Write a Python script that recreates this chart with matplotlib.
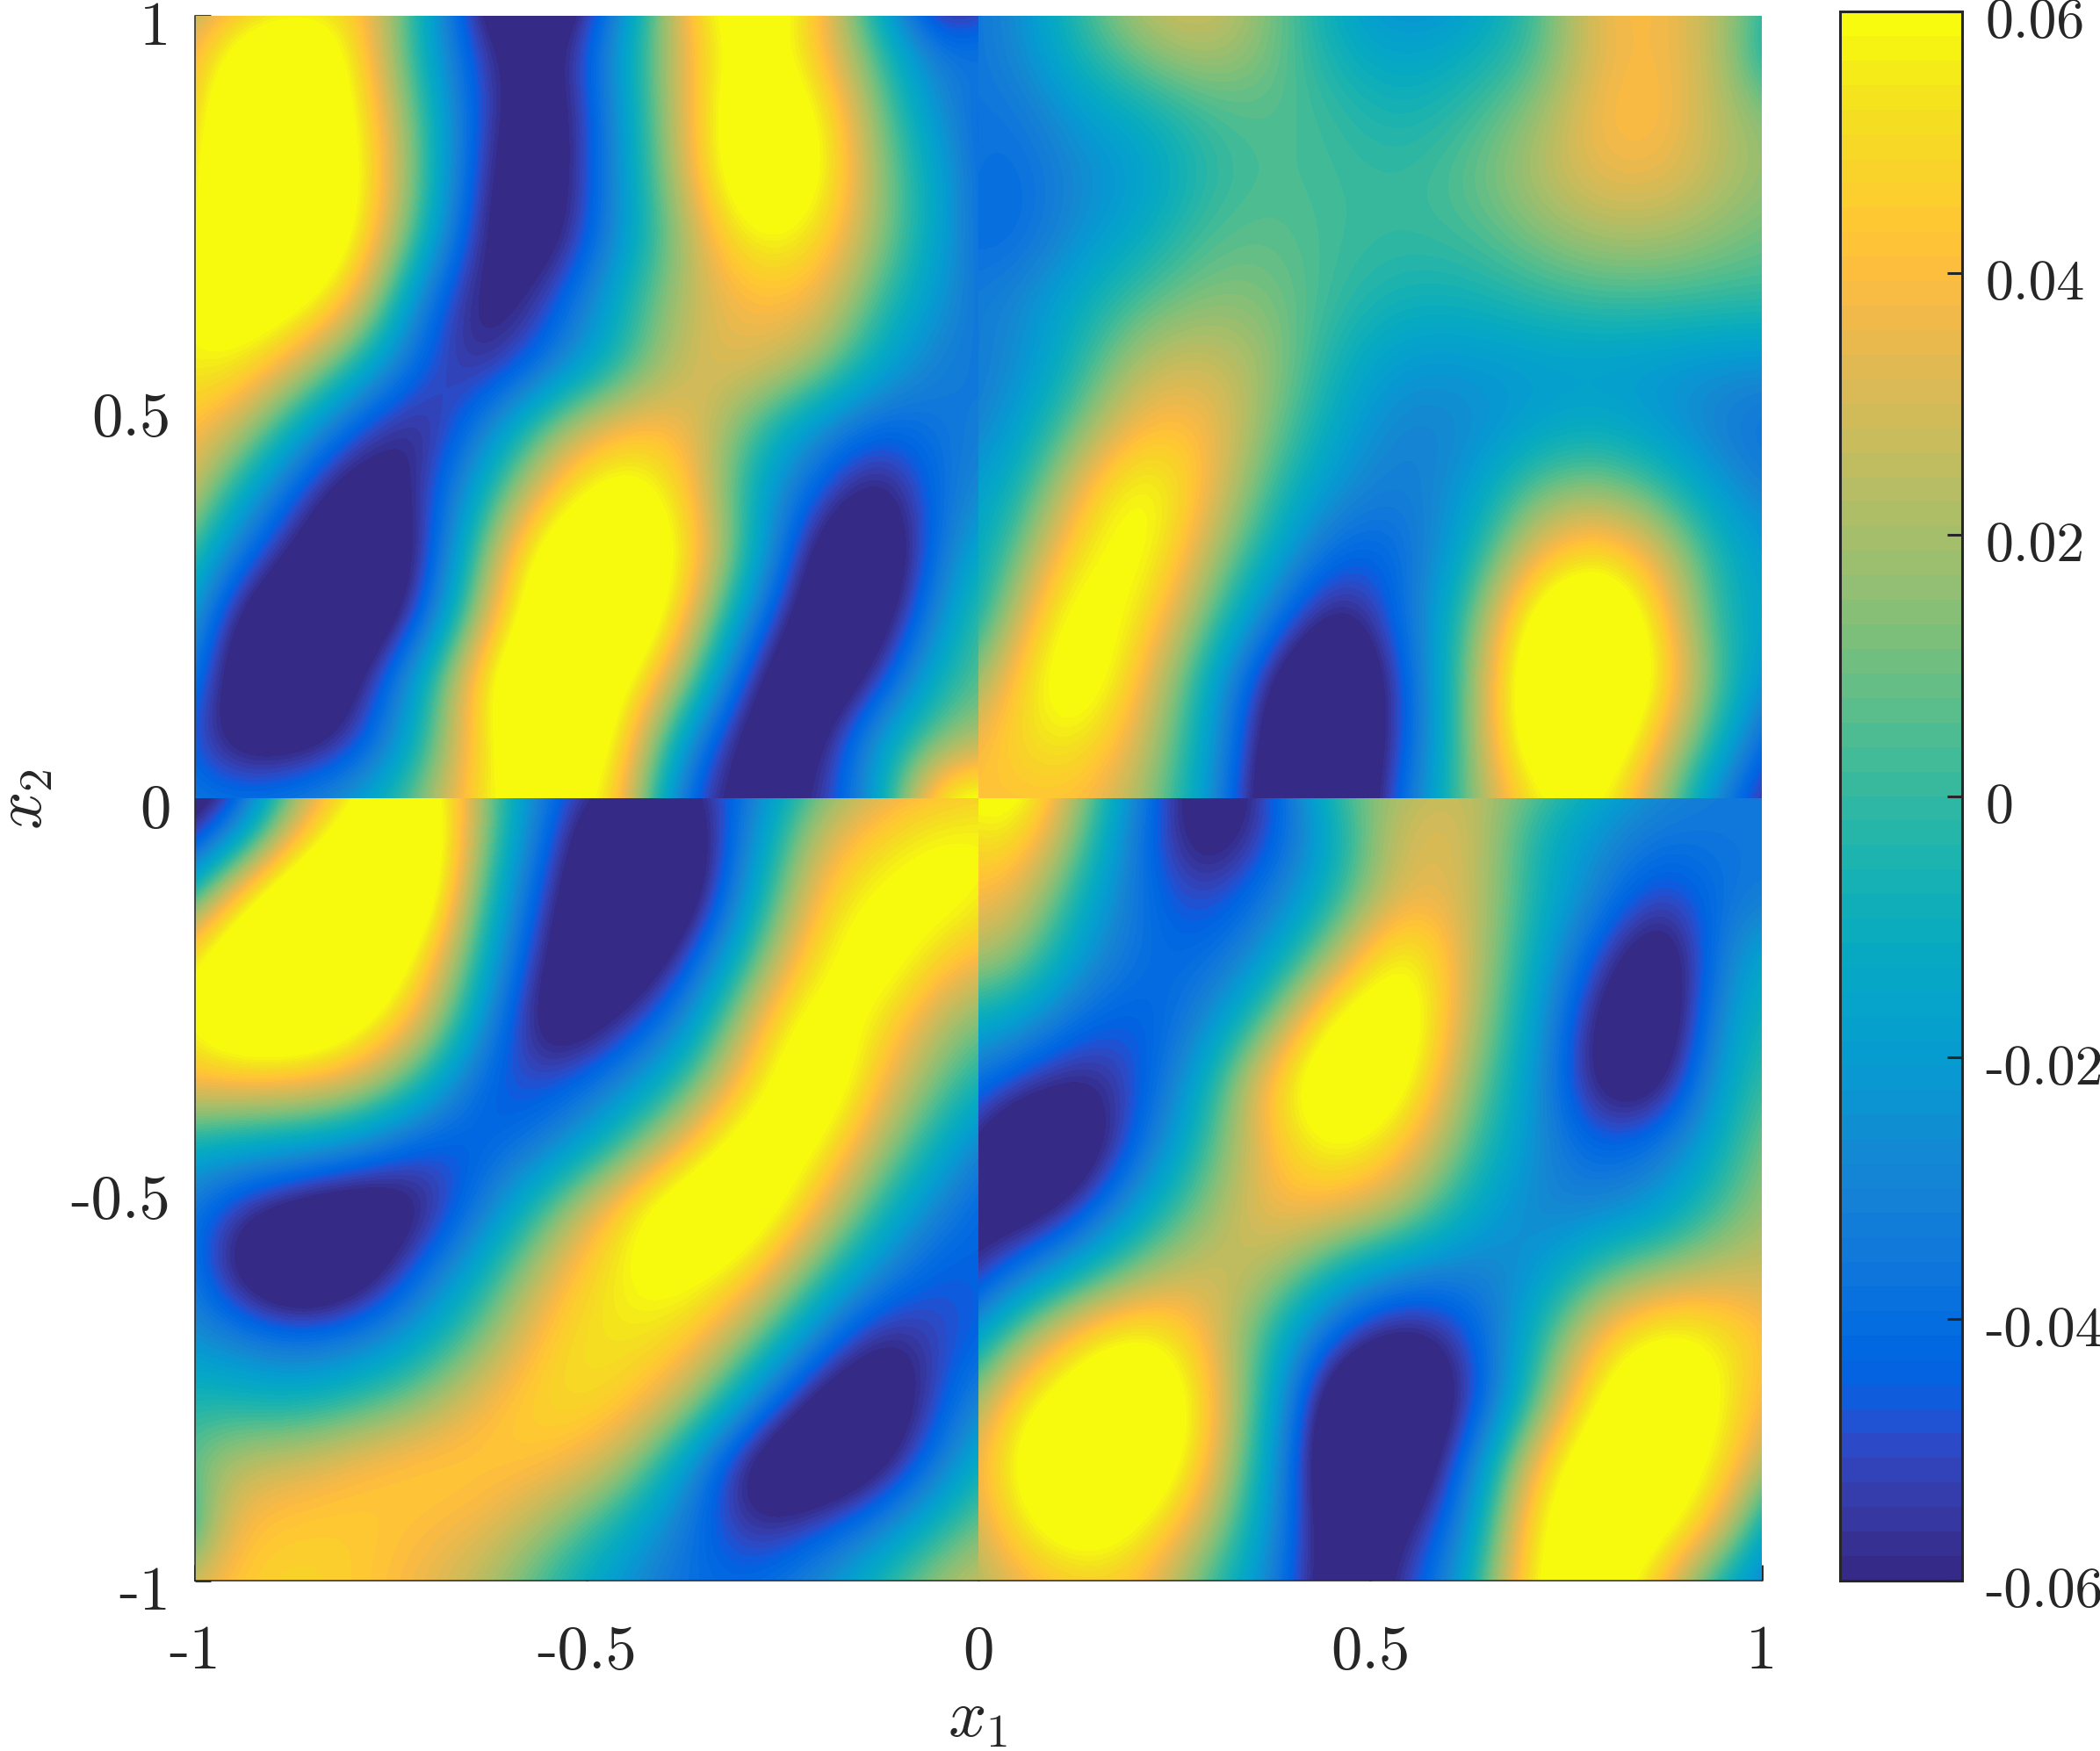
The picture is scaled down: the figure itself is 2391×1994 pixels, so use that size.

from __future__ import annotations

import matplotlib

matplotlib.use("Agg")
import matplotlib.pyplot as plt
import numpy as np
from matplotlib.colors import ListedColormap
from matplotlib.patches import Rectangle
from matplotlib.transforms import ScaledTranslation

W, H, DPI = 2391, 1994, 100
FS = 51
FS_CBAR = 46
FS_LABEL = 55
INK = "#262626"

plt.rcParams.update(
    {
        "font.family": "cmr10",
        "mathtext.fontset": "cm",
        "axes.unicode_minus": False,
        "axes.formatter.use_mathtext": True,
    }
)

# MATLAB parula(64)
PARULA = [
    (0.2081, 0.1663, 0.5292), (0.2116, 0.1898, 0.5777), (0.2123, 0.2138, 0.6270), (0.2081, 0.2386, 0.6771),
    (0.1959, 0.2645, 0.7279), (0.1707, 0.2919, 0.7792), (0.1253, 0.3242, 0.8303), (0.0591, 0.3598, 0.8683),
    (0.0117, 0.3875, 0.8820), (0.0060, 0.4086, 0.8828), (0.0165, 0.4266, 0.8786), (0.0329, 0.4430, 0.8720),
    (0.0498, 0.4586, 0.8641), (0.0629, 0.4737, 0.8554), (0.0723, 0.4887, 0.8467), (0.0779, 0.5040, 0.8384),
    (0.0793, 0.5200, 0.8312), (0.0749, 0.5375, 0.8263), (0.0641, 0.5570, 0.8240), (0.0488, 0.5772, 0.8228),
    (0.0343, 0.5966, 0.8199), (0.0265, 0.6137, 0.8135), (0.0239, 0.6287, 0.8038), (0.0231, 0.6418, 0.7913),
    (0.0228, 0.6535, 0.7768), (0.0267, 0.6642, 0.7607), (0.0384, 0.6743, 0.7436), (0.0590, 0.6838, 0.7254),
    (0.0843, 0.6928, 0.7062), (0.1133, 0.7015, 0.6859), (0.1453, 0.7098, 0.6646), (0.1801, 0.7177, 0.6424),
    (0.2178, 0.7250, 0.6193), (0.2586, 0.7317, 0.5954), (0.3022, 0.7376, 0.5712), (0.3482, 0.7424, 0.5473),
    (0.3953, 0.7459, 0.5244), (0.4420, 0.7481, 0.5033), (0.4871, 0.7491, 0.4840), (0.5300, 0.7491, 0.4661),
    (0.5709, 0.7485, 0.4494), (0.6099, 0.7473, 0.4337), (0.6473, 0.7456, 0.4188), (0.6834, 0.7435, 0.4044),
    (0.7184, 0.7411, 0.3905), (0.7525, 0.7384, 0.3768), (0.7858, 0.7356, 0.3633), (0.8185, 0.7327, 0.3498),
    (0.8507, 0.7299, 0.3360), (0.8824, 0.7274, 0.3217), (0.9139, 0.7258, 0.3063), (0.9450, 0.7261, 0.2886),
    (0.9739, 0.7314, 0.2666), (0.9938, 0.7455, 0.2403), (0.9990, 0.7653, 0.2164), (0.9955, 0.7861, 0.1967),
    (0.9880, 0.8066, 0.1794), (0.9789, 0.8271, 0.1633), (0.9697, 0.8481, 0.1475), (0.9626, 0.8705, 0.1309),
    (0.9589, 0.8949, 0.1132), (0.9598, 0.9218, 0.0948), (0.9661, 0.9514, 0.0755), (0.9763, 0.9831, 0.0538),
]

# rows run top to bottom. outer rows/cols sit just past the quadrant edge and get clipped,
# they only set the slope at the edge; values past +-0.06 only shape the saturated blobs
TOP_LEFT = [
    [0.0, 0.028, 0.034, 0.048, -0.008, -0.08, -0.085, -0.04, 0.045, 0.085, 0.05, -0.02, -0.085, -0.05],
    [0.018, 0.062, 0.09, 0.052, -0.012, -0.06, -0.07, -0.02, 0.035, 0.075, 0.045, 0.0, -0.043, -0.025],
    [0.02, 0.08, 0.095, 0.06, 0.0, -0.058, -0.075, -0.025, 0.035, 0.085, 0.065, 0.01, -0.03, -0.05],
    [0.02, 0.09, 0.1, 0.065, 0.005, -0.065, -0.075, -0.025, 0.03, 0.085, 0.07, 0.015, -0.02, -0.054],
    [0.026, 0.09, 0.095, 0.06, -0.005, -0.07, -0.07, -0.025, 0.02, 0.062, 0.055, 0.015, -0.02, -0.054],
    [0.044, 0.08, 0.07, 0.04, -0.038, -0.07, -0.05, -0.01, 0.025, 0.04, 0.04, 0.0, -0.025, -0.045],
    [0.056, 0.06, 0.035, -0.005, -0.048, -0.062, -0.035, -0.005, 0.03, 0.035, 0.02, -0.015, -0.035, -0.035],
    [0.045, 0.035, -0.01, -0.05, -0.065, -0.03, 0.015, 0.04, 0.04, 0.005, -0.025, -0.045, -0.035, -0.031],
    [0.05, 0.0, -0.045, -0.075, -0.058, -0.005, 0.045, 0.075, 0.05, -0.01, -0.045, -0.07, -0.035, -0.021],
    [0.026, -0.03, -0.065, -0.085, -0.062, 0.02, 0.08, 0.09, 0.06, -0.005, -0.07, -0.085, -0.03, 0.0],
    [0.01, -0.06, -0.085, -0.085, -0.05, 0.035, 0.09, 0.095, 0.045, -0.03, -0.08, -0.075, -0.02, 0.02],
    [-0.01, -0.07, -0.085, -0.065, -0.012, 0.065, 0.095, 0.07, 0.02, -0.06, -0.085, -0.055, 0.0, 0.01],
    [-0.032, -0.068, -0.07, -0.055, -0.005, 0.06, 0.09, 0.06, -0.025, -0.075, -0.07, -0.015, 0.015, 0.025],
    [-0.03, -0.035, -0.03, -0.015, 0.015, 0.06, 0.075, 0.05, -0.05, -0.07, -0.06, -0.02, 0.08, 0.07],
]
TOP_RIGHT = [
    [-0.04, -0.03, -0.001, 0.029, 0.035, 0.012, -0.014, -0.032, -0.024, 0.0, 0.04, 0.04, 0.02, -0.01],
    [-0.04, -0.03, -0.005, 0.015, 0.025, 0.012, -0.01, -0.018, -0.012, 0.0, 0.035, 0.04, 0.02, -0.03],
    [-0.035, -0.038, -0.02, -0.01, 0.003, 0.007, 0.0, -0.008, 0.0, 0.015, 0.04, 0.042, 0.02, 0.01],
    [-0.032, -0.043, -0.028, -0.02, -0.002, 0.005, 0.002, 0.0, 0.007, 0.022, 0.036, 0.036, 0.022, 0.014],
    [-0.038, -0.043, -0.025, -0.012, 0.005, 0.008, 0.002, 0.0, 0.002, 0.012, 0.02, 0.02, 0.013, 0.007],
    [-0.034, -0.03, -0.012, 0.005, 0.015, 0.013, 0.0, -0.008, -0.008, -0.002, 0.002, 0.002, 0.0, 0.0],
    [-0.036, -0.03, -0.005, 0.025, 0.03, 0.018, -0.008, -0.022, -0.022, -0.02, -0.02, -0.022, -0.025, -0.025],
    [-0.038, -0.022, 0.01, 0.042, 0.042, 0.012, -0.015, -0.032, -0.028, -0.018, -0.012, -0.022, -0.035, -0.041],
    [-0.024, -0.012, 0.035, 0.07, 0.04, 0.0, -0.025, -0.035, -0.022, 0.01, 0.018, 0.002, -0.025, -0.035],
    [-0.026, 0.002, 0.055, 0.07, 0.025, -0.012, -0.045, -0.042, -0.012, 0.035, 0.055, 0.03, -0.012, -0.024],
    [-0.03, 0.02, 0.075, 0.055, 0.01, -0.035, -0.07, -0.04, 0.002, 0.07, 0.095, 0.045, -0.012, -0.018],
    [-0.006, 0.042, 0.08, 0.04, -0.01, -0.065, -0.09, -0.05, 0.01, 0.085, 0.1, 0.055, -0.005, -0.035],
    [0.03, 0.05, 0.058, 0.03, -0.015, -0.075, -0.09, -0.05, 0.01, 0.08, 0.085, 0.035, -0.015, -0.065],
    [0.045, 0.04, 0.042, 0.02, -0.02, -0.08, -0.09, -0.04, 0.01, 0.055, 0.065, 0.015, -0.045, -0.07],
]
BOTTOM_LEFT = [
    [-0.08, -0.075, 0.005, 0.055, 0.08, 0.01, -0.04, -0.055, -0.06, -0.04, 0.0, 0.025, 0.03, 0.04],
    [-0.075, -0.045, 0.035, 0.075, 0.09, 0.01, -0.05, -0.085, -0.08, -0.03, 0.025, 0.045, 0.06, 0.06],
    [-0.04, 0.04, 0.085, 0.1, 0.085, -0.005, -0.06, -0.09, -0.08, -0.02, 0.04, 0.065, 0.07, 0.05],
    [0.04, 0.08, 0.1, 0.095, 0.055, -0.015, -0.07, -0.085, -0.055, 0.0, 0.055, 0.075, 0.045, 0.035],
    [0.045, 0.085, 0.09, 0.07, 0.035, -0.03, -0.078, -0.06, -0.03, 0.03, 0.075, 0.055, 0.02, 0.004],
    [0.04, 0.04, 0.04, 0.03, -0.005, -0.05, -0.05, -0.03, 0.0, 0.05, 0.085, 0.04, 0.005, -0.015],
    [-0.009, -0.015, -0.02, -0.03, -0.05, -0.045, -0.03, 0.0, 0.04, 0.08, 0.065, 0.02, -0.015, -0.045],
    [-0.025, -0.055, -0.07, -0.08, -0.065, -0.03, 0.01, 0.05, 0.085, 0.08, 0.04, -0.005, -0.035, -0.049],
    [-0.018, -0.062, -0.09, -0.075, -0.04, -0.005, 0.035, 0.06, 0.068, 0.05, 0.005, -0.03, -0.05, -0.04],
    [-0.02, -0.03, -0.04, -0.035, -0.015, 0.015, 0.05, 0.055, 0.05, 0.015, -0.03, -0.065, -0.05, -0.04],
    [-0.005, -0.005, -0.01, 0.0, 0.015, 0.04, 0.052, 0.05, 0.025, -0.025, -0.07, -0.08, -0.045, -0.015],
    [-0.001, 0.025, 0.03, 0.04, 0.047, 0.045, 0.042, 0.025, -0.02, -0.072, -0.085, -0.07, -0.03, 0.006],
    [-0.04, 0.04, 0.046, 0.046, 0.04, 0.035, 0.015, -0.01, -0.035, -0.06, -0.05, -0.03, 0.0, 0.02],
    [0.03, 0.045, 0.05, 0.045, 0.035, 0.02, -0.005, -0.025, -0.04, -0.04, -0.025, 0.0, 0.025, 0.035],
]
BOTTOM_RIGHT = [
    [0.06, 0.085, 0.025, -0.03, -0.08, -0.05, 0.01, 0.017, 0.027, 0.015, -0.005, -0.025, -0.035, -0.035],
    [0.046, 0.063, 0.015, -0.04, -0.075, -0.05, -0.01, 0.033, 0.033, -0.005, -0.025, -0.035, -0.035, -0.035],
    [0.04, 0.04, -0.005, -0.04, -0.055, -0.035, -0.005, 0.035, 0.032, -0.005, -0.03, -0.055, -0.035, -0.035],
    [0.024, 0.02, -0.02, -0.04, -0.042, -0.02, 0.022, 0.07, 0.03, -0.01, -0.05, -0.08, -0.025, -0.005],
    [-0.009, -0.015, -0.04, -0.048, -0.03, 0.01, 0.07, 0.08, 0.025, -0.015, -0.068, -0.082, -0.015, -0.001],
    [-0.03, -0.05, -0.065, -0.05, -0.01, 0.05, 0.085, 0.07, 0.015, -0.02, -0.07, -0.07, -0.008, 0.008],
    [-0.045, -0.085, -0.08, -0.04, 0.002, 0.042, 0.065, 0.045, 0.005, -0.025, -0.045, -0.035, -0.005, 0.025],
    [-0.065, -0.075, -0.055, -0.015, 0.015, 0.04, 0.036, 0.02, -0.012, -0.03, -0.03, -0.02, 0.008, 0.024],
    [-0.07, -0.04, -0.01, 0.018, 0.032, 0.022, -0.012, -0.03, -0.033, -0.025, 0.005, 0.02, 0.028, 0.028],
    [-0.04, 0.01, 0.05, 0.066, 0.04, -0.005, -0.05, -0.07, -0.052, -0.008, 0.042, 0.068, 0.055, 0.034],
    [-0.005, 0.05, 0.075, 0.09, 0.05, -0.012, -0.085, -0.085, -0.06, 0.002, 0.065, 0.09, 0.055, 0.025],
    [0.02, 0.06, 0.095, 0.085, 0.045, -0.02, -0.09, -0.085, -0.04, 0.04, 0.085, 0.08, 0.05, 0.004],
    [0.01, 0.05, 0.075, 0.06, 0.025, -0.025, -0.08, -0.065, -0.03, 0.06, 0.085, 0.07, 0.03, -0.05],
    [0.012, 0.03, 0.042, 0.04, 0.0, -0.03, -0.08, -0.055, -0.015, 0.065, 0.08, 0.035, -0.025, -0.04],
]

# y range covered by the rows of the upper and lower quadrants, border rows included
UPPER_ROWS = (-0.0507, 1.0797)
LOWER_ROWS = (-1.0545, 0.081)
COL_PAD = 1 / 12

AXIS_TICKS = [-1, -0.5, 0, 0.5, 1]
AXIS_LABELS = ["-1", "-0.5", "0", "0.5", "1"]
CBAR_TICKS = [-0.06, -0.04, -0.02, 0, 0.02, 0.04, 0.06]
CBAR_LABELS = ["-0.06", "-0.04", "-0.02", "0", "0.02", "0.04", "0.06"]


def px_rect(left, top, right, bottom):
    return [left / W, 1 - bottom / H, (right - left) / W, (bottom - top) / H]


def main():
    cmap = ListedColormap(PARULA)
    fig = plt.figure(figsize=(W / DPI, H / DPI), dpi=DPI)
    ax = fig.add_axes(px_rect(222, 18, 2006, 1800))
    quads = [
        (TOP_LEFT, -1, 0, UPPER_ROWS, 0, 1),
        (TOP_RIGHT, 0, 1, UPPER_ROWS, 0, 1),
        (BOTTOM_LEFT, -1, 0, LOWER_ROWS, -1, 0),
        (BOTTOM_RIGHT, 0, 1, LOWER_ROWS, -1, 0),
    ]
    for grid, x0, x1, rows, y0, y1 in quads:
        im = ax.imshow(
            np.array(grid),
            extent=(x0 - COL_PAD, x1 + COL_PAD, rows[0], rows[1]),
            origin="upper",
            cmap=cmap,
            vmin=-0.06,
            vmax=0.06,
            aspect="auto",
            interpolation="bicubic",
            interpolation_stage="data",
            zorder=1,
        )
        im.set_clip_path(Rectangle((x0, y0), x1 - x0, y1 - y0, transform=ax.transData))
    ax.set_xlim(-1, 1)
    ax.set_ylim(-1, 1)
    ax.set_axisbelow(True)
    ax.spines[["top", "right"]].set_visible(False)
    ax.spines[["left", "bottom"]].set_linewidth(1.1)
    ax.spines[["left", "bottom"]].set_color(INK)
    ax.set_xticks(AXIS_TICKS, AXIS_LABELS, fontsize=FS, color=INK)
    ax.set_yticks(AXIS_TICKS, AXIS_LABELS, fontsize=FS, color=INK)
    ax.tick_params(axis="both", direction="in", length=13, width=2, color=INK)
    ax.tick_params(axis="x", pad=36)
    ax.tick_params(axis="y", pad=20)
    shift = ScaledTranslation(0, -8 / DPI, fig.dpi_scale_trans)
    for lab in ax.get_yticklabels():
        lab.set_transform(lab.get_transform() + shift)
    fig.text(1113 / W, 1 - 1958 / H, r"$x_1$", fontsize=FS_LABEL, ha="center", va="center", color=INK)
    fig.text(28 / W, 1 - 910 / H, r"$x_2$", fontsize=FS_LABEL, ha="center", va="center", rotation=90, color=INK)

    cax = fig.add_axes(px_rect(2095, 13, 2234, 1800))
    cb = fig.colorbar(im, cax=cax)
    cb.set_ticks(CBAR_TICKS, labels=CBAR_LABELS)
    cb.outline.set_linewidth(2.2)
    cb.outline.set_edgecolor(INK)
    cax.tick_params(axis="y", direction="in", length=12, width=2.2, pad=19, color=INK, labelsize=FS_CBAR, labelcolor=INK)
    for lab in cax.get_yticklabels():
        lab.set_transform(lab.get_transform() + shift)
    fig.savefig("out.png", dpi=DPI)


if __name__ == "__main__":
    main()
